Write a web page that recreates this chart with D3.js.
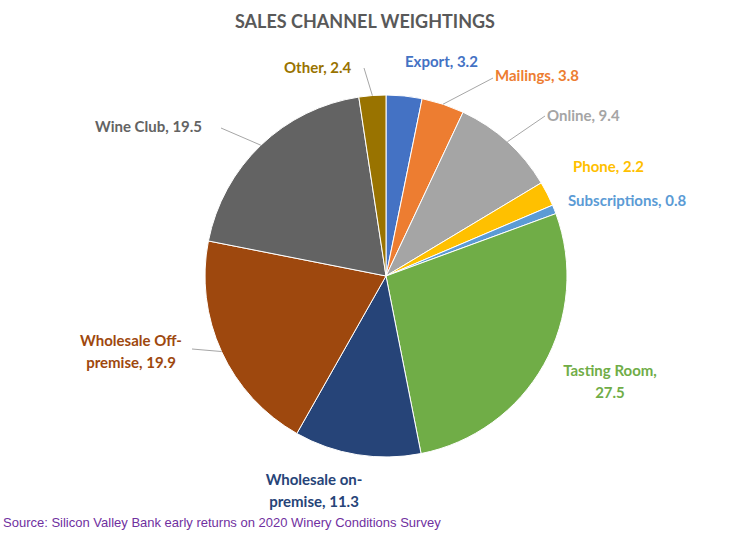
<!DOCTYPE html>
<html><head><meta charset="utf-8">
<script src="https://cdn.jsdelivr.net/npm/d3@7"></script>
<style>body{margin:0;background:#fff}</style>
</head><body>
<svg id="chart" width="731" height="535"></svg>
<script>
// data
const channels = ['Export','Mailings','Online','Phone','Subscriptions','Tasting Room','Wholesale on-premise','Wholesale Off-premise','Wine Club','Other'];
const weights = [3.2, 3.8, 9.4, 2.2, 0.8, 27.5, 11.3, 19.9, 19.5, 2.4];
const colors = ['#4472C4','#ED7D31','#A5A5A5','#FFC000','#5B9BD5','#70AD47','#264478','#9E480E','#636363','#997300'];
// label layout: [lines, x, y, anchor, leader end point or null]
const labelPos = [
  [['Export, 3.2'], 405, 67, 'start', null],
  [['Mailings, 3.8'], 495, 81, 'start', [493, 78]],
  [['Online, 9.4'], 547, 121, 'start', [545, 116]],
  [['Phone, 2.2'], 573, 172, 'start', null],
  [['Subscriptions, 0.8'], 568, 206, 'start', null],
  [['Tasting Room,','27.5'], 610, 376, 'middle', null],
  [['Wholesale on-','premise, 11.3'], 314, 485, 'middle', null],
  [['Wholesale Off-','premise, 19.9'], 131, 346, 'middle', [192, 349]],
  [['Wine Club, 19.5'], 95, 132, 'start', [221, 128]],
  [['Other, 2.4'], 284, 73, 'start', [364, 68]]
];

const svg = d3.select('#chart');
const cx = 386, cy = 276, r = 181;
const font = 'Lato, "Open Sans", sans-serif';

svg.append('text').attr('x', 365).attr('y', 28).attr('text-anchor', 'middle')
  .attr('font-family', font).attr('font-weight', 'bold').attr('font-size', 18)
  .attr('fill', '#595959').text('SALES CHANNEL WEIGHTINGS');

const pie = d3.pie().sort(null).value(d => d)(weights);
const arc = d3.arc().innerRadius(0).outerRadius(r);
const g = svg.append('g').attr('transform', `translate(${cx},${cy})`);

g.selectAll('path').data(pie).join('path')
  .attr('d', arc).attr('fill', (d, i) => colors[i])
  .attr('stroke', '#fff').attr('stroke-width', 1);

// leader lines
pie.forEach((d, i) => {
  const end = labelPos[i][4];
  if (!end) return;
  const a = (d.startAngle + d.endAngle) / 2;
  const px = cx + Math.sin(a) * r, py = cy - Math.cos(a) * r;
  svg.append('line').attr('x1', px).attr('y1', py).attr('x2', end[0]).attr('y2', end[1])
    .attr('stroke', '#A6A6A6').attr('stroke-width', 1);
});

labelPos.forEach((l, i) => {
  const t = svg.append('text').attr('x', l[1]).attr('y', l[2]).attr('text-anchor', l[3])
    .attr('font-family', font).attr('font-weight', 'bold').attr('font-size', 15)
    .attr('fill', colors[i]);
  l[0].forEach((s, j) => t.append('tspan').attr('x', l[1]).attr('dy', j ? 22 : 0).text(s));
});

svg.append('text').attr('x', 3).attr('y', 527).attr('font-family', '"Liberation Sans", Arial, sans-serif')
  .attr('font-size', 13).attr('fill', '#7030A0')
  .text('Source: Silicon Valley Bank early returns on 2020 Winery Conditions Survey');
</script>
</body></html>
